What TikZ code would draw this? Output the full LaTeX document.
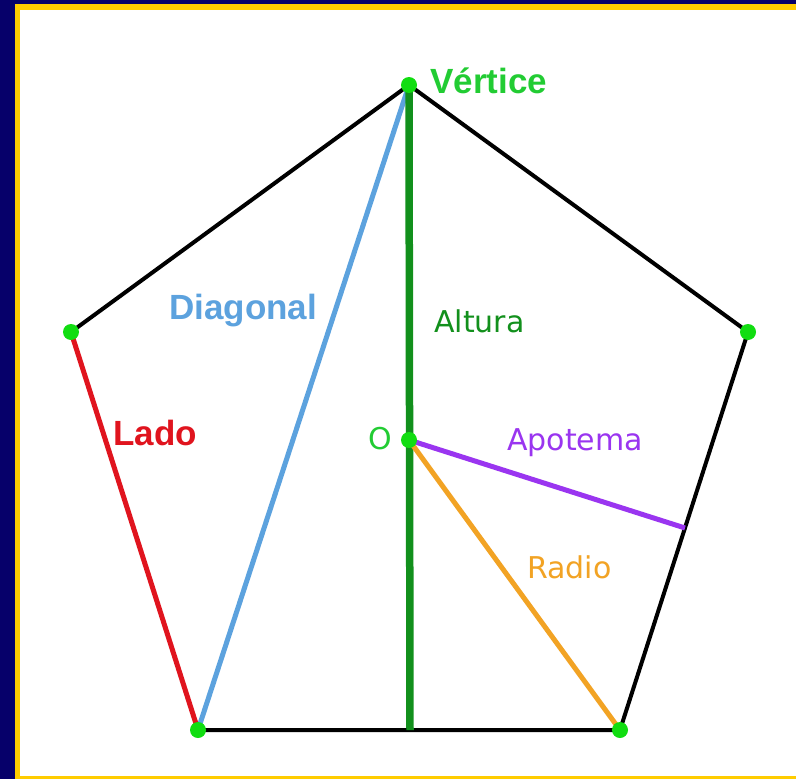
\documentclass[tikz,border=0pt]{standalone}
\usepackage{fontspec}
\setmainfont{DejaVu Sans}
\newfontfamily\labelfont{Liberation Sans}
\usepackage{tikz}

\definecolor{navy}{HTML}{06006A}
\definecolor{gold}{HTML}{FFCC00}
\definecolor{dotgreen}{HTML}{11DD11}
\definecolor{vgreen}{HTML}{22CC33}
\definecolor{hgreen}{HTML}{12901C}
\definecolor{dgblue}{HTML}{5CA2DE}
\definecolor{ladored}{HTML}{E0141E}
\definecolor{appurple}{HTML}{9A35F0}
\definecolor{radorange}{HTML}{F2A324}

\begin{document}
\begin{tikzpicture}[x=1pt,y=-1pt,
	side/.style={line width=4pt},
	part/.style={line width=5pt},
	vdot/.style={fill=dotgreen},
	boldlbl/.style={inner sep=0pt,anchor=base west,font=\labelfont\bfseries\fontsize{35}{38}\selectfont},
	thinlbl/.style={inner sep=0pt,anchor=base west,font=\fontsize{30}{34}\selectfont}]
	% frame
	\fill[navy] (0,0) rectangle (796,779);
	\fill[gold] (15,4) rectangle (796,779);
	\fill[white] (20,10) rectangle (796,776);
	\useasboundingbox (0,0) rectangle (796,779);
	% pentagon
	\coordinate (V) at (409,85);
	\coordinate (L) at (71,332);
	\coordinate (R) at (748,332);
	\coordinate (BL) at (198,730);
	\coordinate (BR) at (620,730);
	\coordinate (O) at (409,440);
	\coordinate (M) at (410,730);
	\coordinate (A) at (685,528);
	\draw[side] (L) -- (V) -- (R) -- (BR) -- (BL);
	\draw[part,ladored] (L) -- (BL);
	\draw[part,dgblue] (V) -- (BL);
	\draw[line width=7.5pt,hgreen] (V) -- (M);
	\draw[part,appurple] (O) -- (A);
	\draw[part,radorange] (O) -- (BR);
	\foreach \p in {V,L,R,BL,BR,O}
		\fill[vdot] (\p) circle (8pt);
	% labels
	\node[boldlbl,vgreen] (vertice) at (430,93) {Vértice};
	\node[boldlbl,dgblue] (diagonal) at (169,319) {Diagonal};
	\node[boldlbl,ladored] (lado) at (113,445) {Lado};
	\node[thinlbl,hgreen] (altura) at (434,332) {Altura};
	\node[thinlbl,vgreen] (centro) at (368,449) {O};
	\node[thinlbl,appurple] (apotema) at (507,450) {Apotema};
	\node[thinlbl,radorange] (radio) at (527,578) {Radio};
\end{tikzpicture}
\end{document}
